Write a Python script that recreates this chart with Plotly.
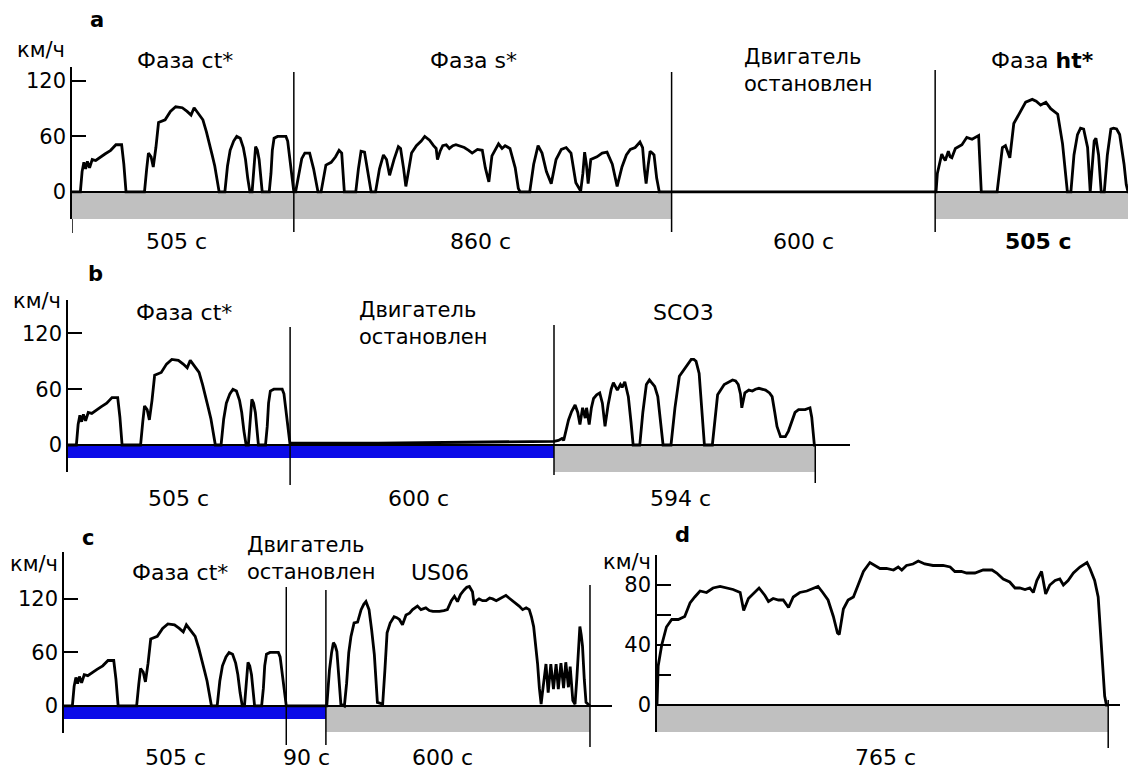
import plotly.graph_objects as go

W, H = 1128, 769

# ---------------- data (time s, speed km/h) ----------------
CT_PHASE = [(0,0),(19,0),(23,22),(27,32),(31,25),(35,33),(40,26),(46,35),(54,34),(62,37),(75,41),(88,45),
            (100,51),(113,51),(118,30),(123,0),(165,0),(170,25),(174,42),(180,38),(185,27),(191,48),(197,75),
            (212,78),(224,87),(236,92),(251,91),(262,87),(271,83),(278,91),(290,83),(298,78),(306,65),(313,53),
            (319,40),(325,28),(335,0),(348,0),(354,28),(360,45),(368,55),(375,60),(383,58),(390,48),(395,35),
            (400,15),(405,0),(410,0),(414,30),(418,49),(422,45),(426,35),(433,0),(449,0),(453,20),(456,45),
            (460,58),(468,60),(478,60),(487,60),(491,55),(495,38),(500,15),(505,0)]

S_PHASE = [(0,0),(4,0),(12,22),(18,36),(25,42),(36,42),(45,25),(55,0),(62,0),(67,15),(73,29),(85,32),(95,38),
           (103,45),(109,42),(115,0),(141,0),(147,25),(153,44),(161,43),(168,22),(176,0),(186,0),(195,25),
           (204,40),(211,35),(218,18),(228,35),(238,49),(243,47),(250,25),(255,6),(262,25),(268,42),(279,50),
           (290,55),(298,60),(309,56),(318,50),(324,47),(327,35),(333,44),(339,50),(347,51),(354,47),(362,50),
           (369,51),(380,49),(388,48),(398,45),(406,42),(418,46),(429,45),(436,26),(444,11),(451,39),(466,52),
           (474,47),(481,50),(492,47),(504,26),(511,4),(515,0),(537,0),(546,30),(556,50),(565,42),(575,22),
           (586,9),(597,35),(609,46),(620,48),(631,42),(642,10),(653,1),(658,20),(662,43),(666,30),(670,9),
           (676,35),(690,38),(702,42),(713,43),(725,30),(736,6),(747,27),(757,40),(766,46),(777,48),(788,54),
           (794,48),(798,25),(802,9),(807,30),(811,44),(816,42),(820,40),(826,15),(832,0),(860,0)]

HT_PHASE = [(0,0),(2,0),(5,20),(8,27),(15,41),(20,36),(23,34),(30,44),(34,38),(38,37),(46,47),(61,51),(72,59),
            (84,57),(99,61),(101,40),(105,0),(141,0),(147,25),(153,48),(160,50),(170,37),(179,74),(191,84),
            (206,97),(221,100),(230,98),(240,94),(252,97),(263,90),(279,84),(290,52),(298,10),(301,0),(309,0),
            (316,40),(324,62),(331,69),(338,68),(347,48),(353,0),(357,30),(362,55),(366,58),(372,40),(378,0),
            (385,0),(392,40),(400,68),(406,69),(413,68),(420,62),(430,30),(435,8),(439,0),(505,0)]

STOP_A = [(0,0),(600,0)]
STOP_B = [(0,2),(200,2),(400,3),(600,4)]
STOP_C = [(0,0),(90,0)]

SC03_PHASE = [(0,4),(10,5),(18,7),(22,5),(28,18),(33,27),(40,36),(48,43),(54,35),(59,22),(65,40),(71,29),(74,40),
              (80,22),(85,40),(90,50),(97,54),(104,56),(110,45),(116,20),(123,43),(130,60),(135,67),(144,59),
              (151,65),(155,62),(161,68),(169,52),(175,25),(180,0),(195,0),(202,35),(210,65),(217,70),(222,67),
              (229,63),(236,52),(242,25),(248,0),(266,0),(275,40),(285,74),(296,81),(305,88),(312,92),(318,92),
              (323,90),(330,77),(336,40),(342,0),(360,0),(366,30),(372,54),(387,65),(397,68),(406,70),(413,69),
              (419,65),(424,55),(427,40),(434,56),(443,59),(451,58),(458,60),(466,61),(474,60),(481,59),(490,56),
              (496,52),(502,35),(507,20),(515,9),(526,9),(533,15),(541,27),(548,35),(556,38),(571,38),(582,40),
              (586,30),(592,0),(594,0)]

US06_PHASE = [(0,0),(2,0),(5,20),(8,40),(13,60),(17,71),(21,68),(25,61),(29,35),(34,2),(42,0),(47,25),(52,60),
              (57,78),(64,93),(72,94),(80,108),(86,114),(91,117),(98,108),(104,85),(110,58),(117,4),(129,2),
              (134,40),(139,82),(146,93),(155,100),(161,99),(167,97),(174,91),(182,102),(190,104),(197,108),
              (208,112),(216,108),(227,110),(235,107),(243,106),(258,106),(268,107),(276,108),(285,118),
              (292,123),(299,117),(306,125),(314,130),(320,133),(326,134),(333,128),(337,113),(342,118),
              (348,120),(356,118),(364,118),(372,121),(379,120),(387,118),(394,120),(402,122),(409,124),
              (416,121),(424,118),(432,115),(439,112),(447,108),(455,110),(462,108),(467,100),(472,89),(477,68),
              (481,47),(485,20),(489,2),(492,15),(495,29),(500,47),(505,15),(511,47),(517,19),(523,47),(528,19),
              (534,48),(540,20),(545,49),(551,21),(555,44),(561,6),(566,2),(570,30),(574,70),(577,89),(580,80),
              (583,67),(587,30),(591,4),(600,0)]

HWFET_PHASE = [(0,0),(2,26),(5,33),(8,40),(12,46),(16,52),(25,57),(36,57),(47,59),(56,68),(64,72),(73,76),(84,75),
               (95,78),(107,79),(118,78),(129,77),(141,75),(147,63),(155,71),(166,75),(173,78),(183,73),(189,69),
               (197,71),(206,70),(214,70),(223,65),(231,72),(242,75),(254,76),(265,78),(273,79),(281,75),(290,70),
               (299,59),(306,48),(309,47),(316,64),(324,70),(333,72),(341,80),(350,89),(361,95),(369,93),(378,91),
               (389,91),(401,90),(409,92),(415,90),(423,93),(434,94),(443,96),(454,94),(468,93),(485,93),(497,92),
               (505,89),(516,89),(525,88),(539,88),(553,90),(568,90),(576,88),(587,84),(598,82),(607,78),(615,78),
               (624,77),(632,78),(638,75),(644,83),(652,89),(659,74),(666,80),(675,83),(683,84),(689,80),(697,83),
               (706,88),(717,92),(729,95),(734,91),(742,83),(748,72),(754,39),(759,6),(762,0),(765,0)]

# phase sequences: (duration s, trace, bar colour)
SEQ_A = [(505, CT_PHASE, "gray"), (860, S_PHASE, "gray"), (600, STOP_A, None), (505, HT_PHASE, "gray")]
SEQ_B = [(505, CT_PHASE, "blue"), (600, STOP_B, "blue"), (594, SC03_PHASE, "gray")]
SEQ_C = [(505, CT_PHASE, "blue"), (90, STOP_C, "blue"), (600, US06_PHASE, "gray")]
SEQ_D = [(765, HWFET_PHASE, "gray")]

TICKS_ABC = [0, 60, 120]
TICKS_D = [0, 20, 40, 60, 80, 100]
TICKTEXT_D = ["0", "", "40", "", "80", ""]

# ---------------- layout helpers ----------------
def pxx(x):
    return x / W

def pxy(y):
    return 1 - y / H

FONT = "DejaVu Sans"
GRAY = "#c0c0c0"
BLUE = "#0b0be8"
LBL = 22

panels = [
    dict(key="", seq=SEQ_A, xd=(72, 1128), yd=(67, 219), xr=(0, 2404), yr=(-29.2, 135),
         deep=29.2, half=14.6, ticks=TICKS_ABC, ticktext=[str(t) for t in TICKS_ABC],
         seps=[(0, 219, 233), (505, 72, 232), (1365, 72, 232), (1965, 70, 232)]),
    dict(key="2", seq=SEQ_B, xd=(68, 850), yd=(300, 472), xr=(0, 1778), yr=(-29.0, 155.9),
         deep=29.0, half=14.0, ticks=TICKS_ABC, ticktext=[str(t) for t in TICKS_ABC],
         seps=[(505, 327, 485), (1105, 325, 475), (1699, 445, 483)]),
    dict(key="3", seq=SEQ_C, xd=(64, 612), yd=(552, 733), xr=(0, 1245), yr=(-30.3, 172.6),
         deep=29.1, half=14.6, ticks=TICKS_ABC, ticktext=[str(t) for t in TICKS_ABC],
         seps=[(505, 587, 745), (595, 590, 745), (1195, 585, 747)]),
    dict(key="4", seq=SEQ_D, xd=(657, 1120), yd=(555, 732), xr=(0, 785), yr=(-18, 100),
         deep=18, half=9, ticks=TICKS_D, ticktext=TICKTEXT_D,
         seps=[(765, 700, 748)]),
]

fig = go.Figure()
shapes = []
layout = {}

for p in panels:
    k = p["key"]
    xs, ys = [], []
    off = 0
    for dur, data, col in p["seq"]:
        for t, v in data:
            xs.append(off + t)
            ys.append(v)
        if col is not None:
            x1 = min(off + dur, p["xr"][1])
            depth = p["deep"] if col == "gray" else p["half"]
            shapes.append(dict(type="rect", xref="x" + k, yref="y" + k, x0=off, x1=x1,
                               y0=-depth, y1=0, fillcolor=GRAY if col == "gray" else BLUE,
                               line=dict(width=0), layer="below"))
        off += dur
    fig.add_trace(go.Scatter(x=xs, y=ys, mode="lines", xaxis="x" + k, yaxis="y" + k,
                             line=dict(color="black", width=2.8), showlegend=False,
                             hoverinfo="skip"))
    for t, y0, y1 in p["seps"]:
        shapes.append(dict(type="line", xref="x" + k, yref="paper", x0=t, x1=t,
                           y0=pxy(y0), y1=pxy(y1), line=dict(color="black", width=1.5)))
    layout["xaxis" + k] = dict(domain=[pxx(p["xd"][0]), pxx(p["xd"][1])], range=list(p["xr"]),
                               visible=False, anchor="y" + k)
    layout["yaxis" + k] = dict(domain=[pxy(p["yd"][1]), pxy(p["yd"][0])], range=list(p["yr"]),
                               anchor="x" + k, showline=True, linecolor="black", linewidth=1.5,
                               ticks="inside", ticklen=14, tickwidth=1.5, tickcolor="black",
                               tickvals=p["ticks"], ticktext=p["ticktext"],
                               tickfont=dict(family=FONT, size=21, color="black"),
                               showgrid=False, zeroline=True, zerolinecolor="black",
                               zerolinewidth=1.5)

def txt(s, x, y, size=LBL, xanchor="center", align="center"):
    return dict(text=s, x=pxx(x), y=pxy(y), xref="paper", yref="paper", showarrow=False,
                xanchor=xanchor, yanchor="middle", align=align,
                font=dict(family=FONT, size=size, color="black"))

STOPPED = "Двигатель<br>остановлен"

ann = [
    # panel a
    txt("<b>a</b>", 97, 20, 21), txt("км/ч", 67, 50, 21, xanchor="right"),
    txt("Фаза ct*", 185, 60), txt("Фаза s*", 473, 60),
    txt(STOPPED, 742, 71, 21, xanchor="left", align="left"),
    txt("Фаза <b>ht*</b>", 1042, 60),
    txt("505 с", 176, 241), txt("860 с", 480, 241), txt("600 с", 803, 241), txt("<b>505 с</b>", 1038, 241),
    # panel b
    txt("<b>b</b>", 95, 274, 21), txt("км/ч", 63, 301, 21, xanchor="right"),
    txt("Фаза ct*", 184, 312),
    txt(STOPPED, 357, 323, 21, xanchor="left", align="left"),
    txt("SCO3", 683, 312),
    txt("505 с", 178, 498), txt("600 с", 418, 498), txt("594 с", 680, 498),
    # panel c
    txt("<b>c</b>", 88, 538, 21), txt("км/ч", 60, 564, 21, xanchor="right"),
    txt("Фаза ct*", 180, 572),
    txt(STOPPED, 245, 558, 21, xanchor="left", align="left"),
    txt("US06", 440, 572),
    txt("505 с", 175, 757), txt("90 с", 306, 757), txt("600 с", 442, 757),
    # panel d
    txt("<b>d</b>", 682, 535, 21), txt("км/ч", 653, 562, 21, xanchor="right"),
    txt("765 с", 885, 757),
]

fig.update_layout(width=W, height=H, margin=dict(l=0, r=0, t=0, b=0),
                  paper_bgcolor="white", plot_bgcolor="white",
                  shapes=shapes, annotations=ann, showlegend=False, **layout)

fig.write_html("out.html", config={"displayModeBar": False})
